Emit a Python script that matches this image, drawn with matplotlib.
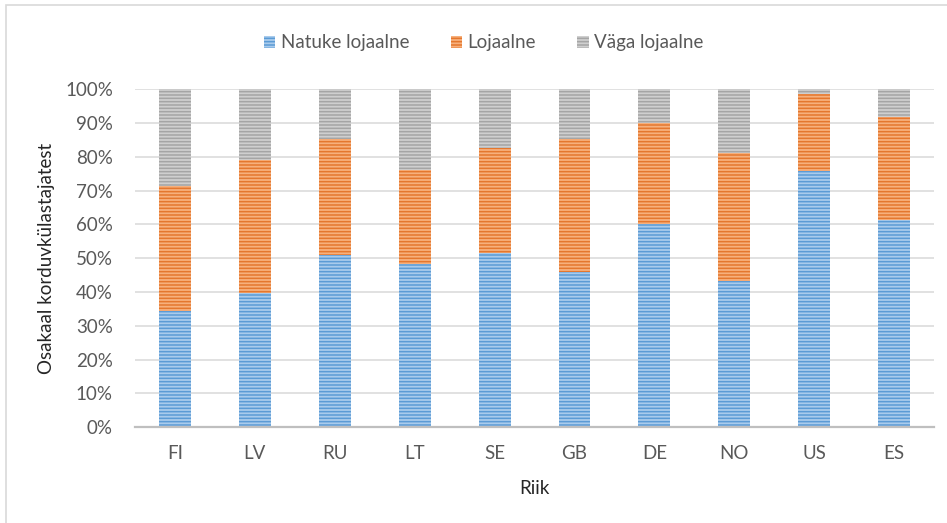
import numpy as np
import matplotlib.pyplot as plt
from matplotlib.patches import Rectangle

plt.rcParams['font.family'] = ['Lato', 'DejaVu Sans']
plt.rcParams['hatch.linewidth'] = 1.1

riigid = ["FI", "LV", "RU", "LT", "SE", "GB", "DE", "NO", "US", "ES"]
natuke = [34.4, 39.8, 51.0, 48.2, 51.4, 46.0, 60.1, 43.2, 75.9, 61.3]
lojaalne = [37.0, 39.3, 34.3, 27.9, 31.3, 39.3, 30.0, 37.8, 22.6, 30.6]
vaga = [28.6, 20.9, 14.7, 23.9, 17.3, 14.7, 9.9, 19.0, 1.5, 8.1]
seeria_nimed = ["Natuke lojaalne", "Lojaalne", "Väga lojaalne"]

# (taust, triibud) iga seeria jaoks
VARVID = [("#a9cbec", "#5b9bd5"), ("#f7b07c", "#e4772e"), ("#cfcfcf", "#a5a5a5")]
TEKST = "#595959"
FS = 13.5

fig = plt.figure(figsize=(9.47, 5.23), dpi=100)
ax = fig.add_axes([0.1426, 0.1832, 0.8437, 0.6462])

x = np.arange(len(riigid))
alus = np.zeros(len(riigid))
for nimi, vaartused, (taust, triip) in zip(seeria_nimed, [natuke, lojaalne, vaga], VARVID):
    v = np.array(vaartused)
    ax.bar(x, v, 0.4, bottom=alus, color=taust, edgecolor=triip,
           hatch="-----", linewidth=0, label=nimi, zorder=3)
    alus += v

ax.set_xlim(-0.5, len(riigid) - 0.5)
ax.set_ylim(0, 100)
ax.set_yticks(np.arange(0, 101, 10))
ax.set_yticklabels([f"{t}%" for t in range(0, 101, 10)])
ax.set_xticks(x)
ax.set_xticklabels(riigid)
ax.tick_params(axis="both", length=0, labelsize=FS, colors=TEKST)
ax.tick_params(axis="y", pad=16)
ax.tick_params(axis="x", pad=13)
ax.grid(axis="y", color="#d9d9d9", linewidth=1.1, zorder=0)
for s in ["top", "right", "left"]:
    ax.spines[s].set_visible(False)
ax.spines["bottom"].set_color("#bfbfbf")
ax.spines["bottom"].set_linewidth(1.6)
ax.spines["bottom"].set_zorder(4)

ax.set_xlabel("Riik", fontsize=FS, color="#262626", labelpad=13)
ax.set_ylabel("Osakaal korduvkülastajatest", fontsize=FS, color="#262626", labelpad=7)

fig.legend(loc="center", bbox_to_anchor=(0.511, 0.918), ncol=3, frameon=False,
           fontsize=FS, labelcolor=TEKST, handlelength=0.6, handleheight=0.6,
           handletextpad=0.3, columnspacing=2.2)

# diagrammi raam
fig.patches.append(Rectangle((6 / 947, -0.1), 1.2, 1 - 5 / 523 + 0.1,
                             transform=fig.transFigure, fill=False,
                             edgecolor="#d9d9d9", linewidth=1.2))

fig.savefig("out.png", dpi=100)
